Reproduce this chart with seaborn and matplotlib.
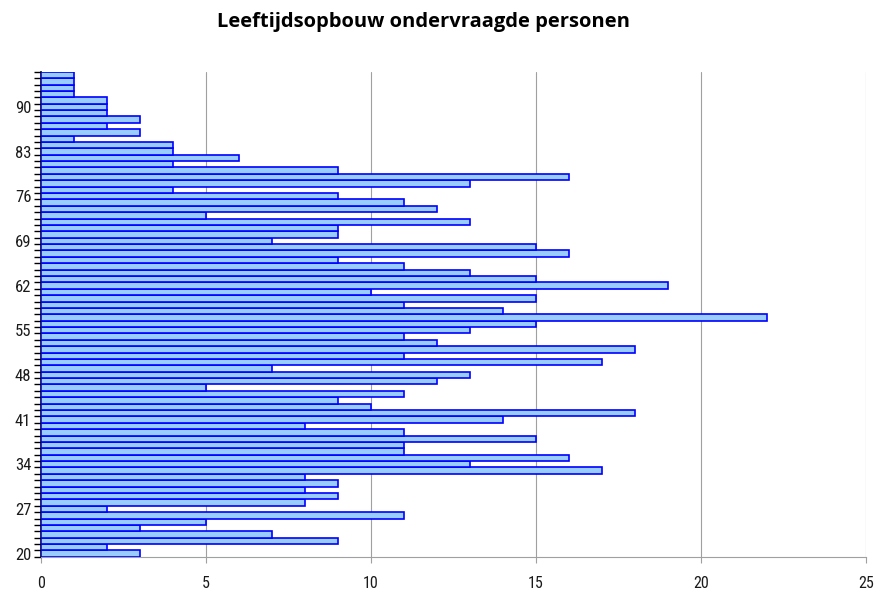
import numpy as np
import pandas as pd
import matplotlib
matplotlib.use("Agg")
import matplotlib.pyplot as plt
import seaborn as sns
from matplotlib.ticker import MultipleLocator, FixedLocator

# --- data: age 20..95 and number of respondents ---
ages = list(range(20, 96))
counts = [3, 2, 9, 7, 3, 5, 11, 2, 8, 9,
          8, 9, 8, 17, 13, 16, 11, 11, 15, 11,
          8, 14, 18, 10, 9, 11, 5, 12, 13, 7,
          17, 11, 18, 12, 11, 13, 15, 22, 14, 11,
          15, 10, 19, 15, 13, 11, 9, 16, 15, 7,
          9, 9, 13, 5, 12, 11, 9, 4, 13, 16,
          9, 4, 6, 4, 4, 1, 3, 2, 3, 2,
          2, 2, 1, 1, 1, 1]
age_labels = [20, 27, 34, 41, 48, 55, 62, 69, 76, 83, 90]
title = "Leeftijdsopbouw ondervraagde personen"

df = pd.DataFrame({"age": ages, "count": counts})

sns.set_style("white")
plt.rcParams["font.family"] = ["Roboto Condensed", "DejaVu Sans"]

fig, ax = plt.subplots(figsize=(8.74, 5.93), dpi=100)
fig.subplots_adjust(left=0.047, right=0.991, top=0.879, bottom=0.061)

sns.barplot(data=df, x="count", y="age", orient="h", native_scale=True,
            width=1.0, color="#99CCFF", saturation=1, edgecolor="#0000FF",
            linewidth=1.2, ax=ax, zorder=3)

ax.set_xlim(0, 25)
ax.set_ylim(19.5, 95.5)
ax.xaxis.set_major_locator(MultipleLocator(5))
ax.grid(axis="x", color="#A0A0A0", linewidth=0.8, zorder=0)
ax.grid(axis="y", visible=False)

ax.yaxis.set_major_locator(FixedLocator(age_labels))
ax.yaxis.set_minor_locator(FixedLocator(np.arange(19.5, 96, 1)))
ax.tick_params(axis="y", which="major", length=0, labelsize=12, pad=7,
               labelcolor="#1a1a1a")
ax.tick_params(axis="y", which="minor", length=5, width=1, color="black", left=True)
ax.tick_params(axis="x", which="major", length=4, color="#A0A0A0",
               labelsize=11.5, pad=10, bottom=True, labelcolor="#1a1a1a")

ax.set_xlabel("")
ax.set_ylabel("")
for s in ["top", "right"]:
    ax.spines[s].set_visible(False)
ax.spines["left"].set_color("black")
ax.spines["left"].set_linewidth(1.2)
ax.spines["bottom"].set_color("#A0A0A0")

fig.suptitle(title, x=0.484, y=0.98, fontsize=14.5, fontweight="bold",
             color="black", family=["Open Sans", "DejaVu Sans"])

fig.savefig("out.png", dpi=100)
